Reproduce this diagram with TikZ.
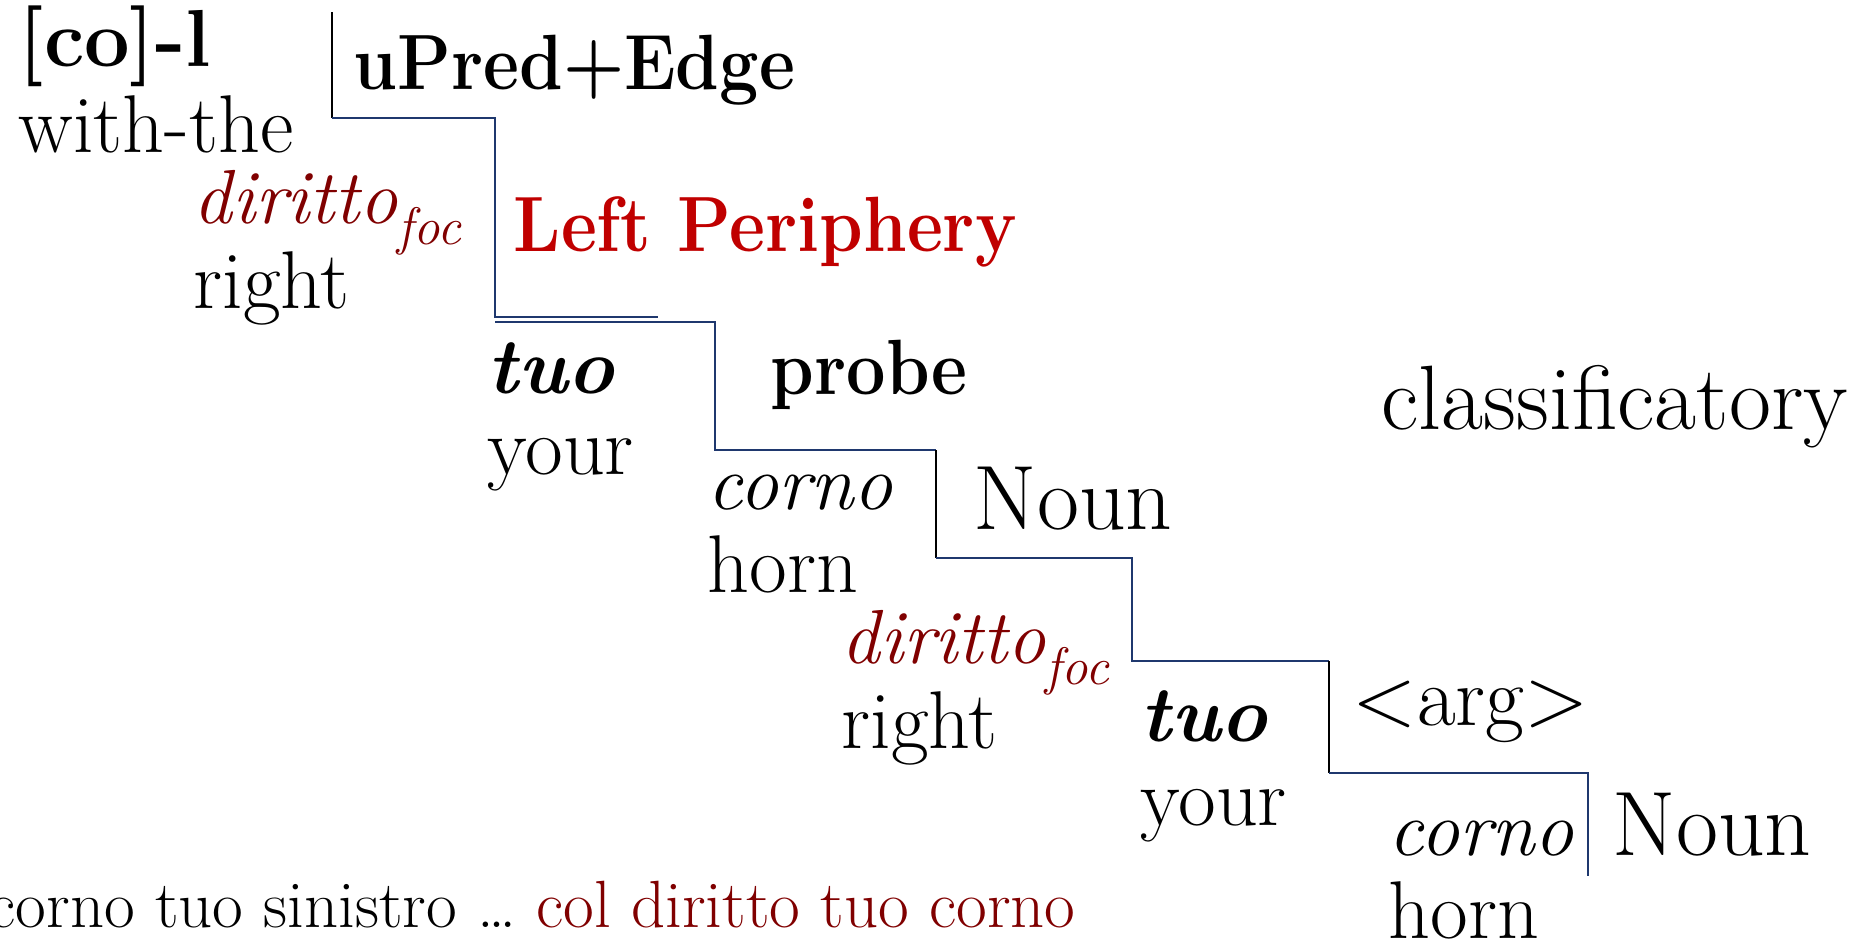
\documentclass[tikz,border=0pt]{standalone}
\definecolor{focred}{RGB}{128,0,0}
\definecolor{lpred}{RGB}{192,0,0}
\definecolor{stairblue}{RGB}{31,56,110}
\newcommand{\foc}{\raisebox{-6pt}{\fontsize{15}{17}\selectfont\itshape foc}}
\tikzset{
  word/.style={anchor=base west, inner sep=0pt, font=\fontsize{23.3}{26}\selectfont},
  label/.style={word, font=\fontsize{26}{29}\selectfont},
  bword/.style={word, yscale=1.12, font=\fontsize{19.9}{22}\selectfont\bfseries},
  focus/.style={word, text=focred, font=\fontsize{21.8}{24}\selectfont\itshape},
  stair/.style={stairblue, line width=0.75pt},
  wall/.style={black, line width=0.75pt}
}
\begin{document}
\begin{tikzpicture}[x=0.01cm, y=-0.01cm]
\useasboundingbox (0,0) rectangle (1857,941);

\node[word, font=\fontsize{23}{26}\selectfont\bfseries] (col) at (18,66) {[co]-l};
\node[word] (withthe) at (18,152) {with-the};
\node[focus] (dirA) at (193,223) {diritto\foc};
\node[word] (rightA) at (193,308) {right};
\node[bword] (upred) at (353,89) {uPred+Edge};
\node[bword, text=lpred] (lp) at (513,251) {Left Periphery};
\node[word, font=\fontsize{22.5}{25}\selectfont\bfseries\itshape] (tuoA) at (487,393) {tuo};
\node[word] (yourA) at (487,474) {your};
\node[bword] (probe) at (770,394) {probe};
\node[label] (classif) at (1381,429) {classificatory};
\node[word, font=\fontsize{22.3}{25}\selectfont\itshape] (cornoA) at (707,509) {corno};
\node[label] (nounA) at (973,529) {Noun};
\node[word] (hornA) at (707,592) {horn};
\node[focus] (dirB) at (841,663) {diritto\foc};
\node[word] (rightB) at (841,748) {right};
\node[word, font=\fontsize{22.5}{25}\selectfont\bfseries\itshape] (tuoB) at (1140,741) {tuo};
\node[word, font=\fontsize{24}{27}\selectfont] (arg) at (1352,725) {<arg>};
\node[word] (yourB) at (1140,825) {your};
\node[word, font=\fontsize{22.3}{25}\selectfont\itshape] (cornoB) at (1388,855) {corno};
\node[label] (nounB) at (1612,855) {Noun};
\node[word] (hornB) at (1388,938) {horn};
\node[word, font=\fontsize{19}{22}\selectfont] (gloss) at (-12,927) {corno tuo sinistro \ldots{} \textcolor{focred}{col diritto tuo corno}};

% staircase
\draw[wall] (332,12) -- (332,118);
\draw[stair] (332,118) -- (495,118) -- (495,317) -- (658,317);
\draw[stair] (495,322) -- (715,322) -- (715,450) -- (936,450);
\draw[wall] (936,450) -- (936,558);
\draw[stair] (936,558) -- (1132,558) -- (1132,661) -- (1329,661);
\draw[wall] (1329,661) -- (1329,773);
\draw[stair] (1329,773) -- (1588,773) -- (1588,876);

\end{tikzpicture}
\end{document}
